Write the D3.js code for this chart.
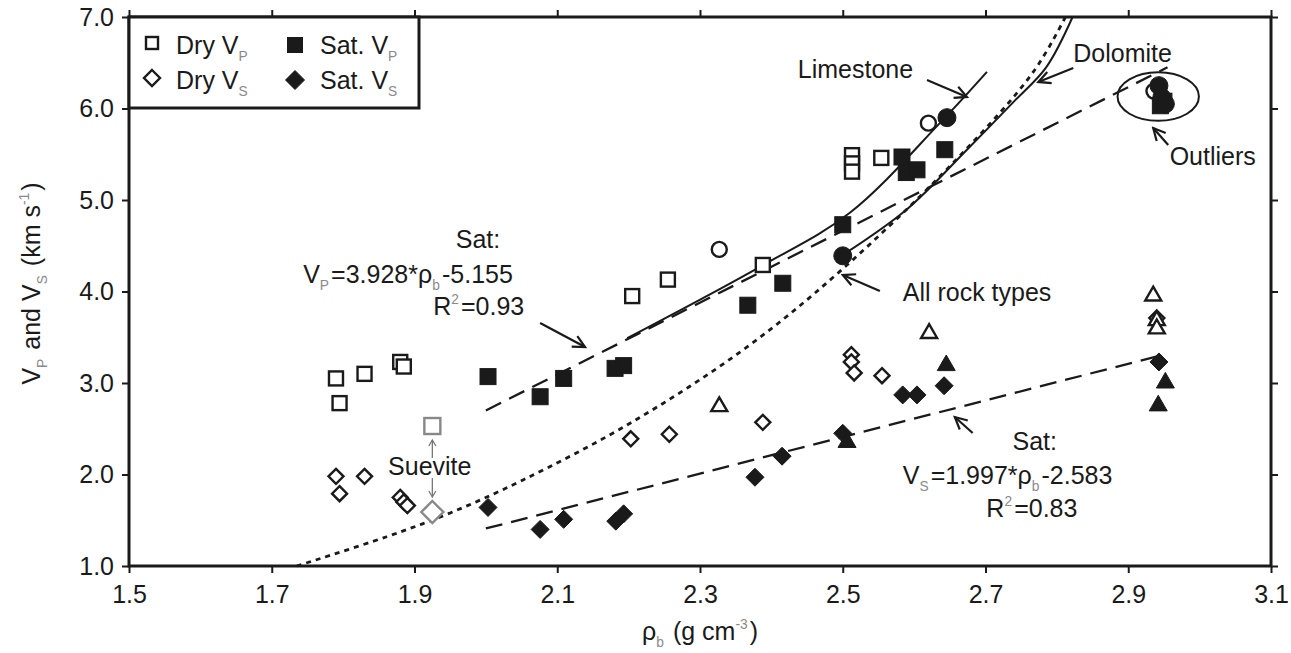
<!DOCTYPE html>
<html><head><meta charset="utf-8">
<script src="https://cdn.jsdelivr.net/npm/d3@7"></script>
<style>body{margin:0;background:#fff}svg{display:block}text{font-family:"Liberation Sans",Arial,sans-serif;fill:#1a1a1a}</style>
</head><body><svg id="c" width="1291" height="653"></svg>
<script>
// ---------- data ----------
const xTicks = [1.5,1.7,1.9,2.1,2.3,2.5,2.7,2.9,3.1];
const yTicks = [1,2,3,4,5,6,7];
const dryVP = [[1.79,3.05],[1.795,2.78],[1.83,3.10],[1.88,3.23],[1.885,3.18],[2.205,3.95],[2.255,4.13],[2.388,4.29],[2.513,5.49],[2.513,5.40],[2.513,5.31],[2.554,5.46]];
const satVP = [[2.003,3.07],[2.076,2.85],[2.109,3.05],[2.181,3.16],[2.193,3.19],[2.367,3.85],[2.416,4.09],[2.50,4.73],[2.583,5.47],[2.589,5.30],[2.604,5.33],[2.643,5.55],[2.945,6.03],[2.95,6.08]];
const dryVS = [[1.79,1.98],[1.795,1.79],[1.83,1.98],[1.88,1.75],[1.885,1.70],[1.89,1.66],[2.203,2.39],[2.257,2.44],[2.388,2.57],[2.512,3.31],[2.512,3.23],[2.516,3.11],[2.555,3.08],[2.94,3.71]];
const satVS = [[2.003,1.64],[2.076,1.40],[2.109,1.51],[2.182,1.49],[2.193,1.57],[2.377,1.97],[2.415,2.20],[2.50,2.45],[2.584,2.87],[2.604,2.87],[2.642,2.97],[2.943,3.23]];
const openTri = [[2.327,2.75],[2.621,3.55],[2.935,3.96],[2.94,3.69],[2.94,3.60]];
const filledTri = [[2.506,2.36],[2.645,3.20],[2.952,3.01],[2.942,2.76]];
const openCircle = [[2.327,4.46],[2.62,5.84],[2.936,6.19]];
const filledCircle = [[2.646,5.90],[2.50,4.39],[2.943,6.25],[2.947,6.12],[2.952,6.05]];
const sueviteVP = [[1.925,2.53]];
const sueviteVS = [[1.925,1.59]];
const satVPFit = [[2.0,2.70],[2.955,6.45]];
const satVSFit = [[2.0,1.41],[2.945,3.30]];
const limestone = [[2.198,3.49],[2.384,4.27],[2.51,4.86],[2.636,5.84],[2.702,6.40]];
const dolomite = [[2.50,4.40],[2.59,4.90],[2.674,5.55],[2.739,6.07],[2.785,6.45],[2.822,7.0]];
const allRock = [[1.735,1.0],[1.861,1.32],[1.95,1.58],[2.052,1.94],[2.202,2.56],[2.36,3.36],[2.496,4.22],[2.66,5.45],[2.767,6.40],[2.812,7.0]];
const outlierEllipse = {cx:2.942, cy:6.13, rx:0.057, ry:0.265};

// ---------- setup ----------
const svg = d3.select("#c");
const L=129, R=1271, T=17, B=566;
const x = d3.scaleLinear().domain([1.5,3.1]).range([L,R]);
const y = d3.scaleLinear().domain([1,7]).range([B,T]);
const ink = "#1a1a1a";

const defs = svg.append("defs");
defs.append("marker").attr("id","ar").attr("viewBox","-14 -8 16 16").attr("refX",0).attr("refY",0)
   .attr("markerWidth",16).attr("markerHeight",16).attr("markerUnits","userSpaceOnUse").attr("orient","auto")
   .append("path").attr("d","M-12,-6L0,0L-12,6").attr("fill","none").attr("stroke",ink).attr("stroke-width",2.2);
defs.append("marker").attr("id","arg").attr("viewBox","-8 -5 10 10").attr("refX",0).attr("refY",0)
   .attr("markerWidth",10).attr("markerHeight",10).attr("markerUnits","userSpaceOnUse").attr("orient","auto")
   .append("path").attr("d","M-6,-3.5L0,0L-6,3.5").attr("fill","none").attr("stroke","#777").attr("stroke-width",1.3);

// ---------- axes ----------
const fmt = d3.format(".1f");
const gx = svg.append("g").attr("transform",`translate(0,${B})`).call(d3.axisBottom(x).tickValues(xTicks).tickFormat(fmt).tickSize(7).tickPadding(12));
const gxt = svg.append("g").attr("transform",`translate(0,${T})`).call(d3.axisTop(x).tickValues(xTicks).tickFormat("").tickSize(7));
const gy = svg.append("g").attr("transform",`translate(${L},0)`).call(d3.axisLeft(y).tickValues(yTicks).tickFormat(fmt).tickSize(7).tickPadding(8));
const gyr = svg.append("g").attr("transform",`translate(${R},0)`).call(d3.axisRight(y).tickValues(yTicks).tickFormat("").tickSize(7));
[gx,gxt,gy,gyr].forEach(g=>{
  g.select(".domain").remove();
  g.selectAll(".tick line").attr("stroke",ink).attr("stroke-width",2);
  g.selectAll(".tick text").attr("font-size",25).attr("fill","#222").style("font-family",'"Liberation Sans",Arial,sans-serif');
});
svg.append("rect").attr("x",L).attr("y",T).attr("width",R-L).attr("height",B-T).attr("fill","none").attr("stroke",ink).attr("stroke-width",3);

// ---------- rich text helper ----------
function rich(g, px, py, parts, anchor, size){
  size = size||25;
  const t = g.append("text").attr("x",px).attr("y",py).attr("font-size",size).attr("text-anchor",anchor||"start");
  parts.forEach(p=>{
    if(typeof p==="string"){ t.append("tspan").text(p); }
    else {
      const sh = p.sub ? 0.28*size : -0.45*size;
      t.append("tspan").attr("dy",sh).attr("font-size",size*0.55).attr("fill","#8a8a8a").text(p.t);
      t.append("tspan").attr("dy",-sh).text("\u200A");
    }
  });
  return t;
}

// ---------- lines ----------
const line = d3.line().x(d=>x(d[0])).y(d=>y(d[1]));
const curve = d3.line().x(d=>x(d[0])).y(d=>y(d[1])).curve(d3.curveCatmullRom.alpha(0.5));
const lg = svg.append("g").attr("fill","none").attr("stroke",ink);
lg.append("path").datum(satVPFit).attr("d",line).attr("stroke-width",2.3).attr("stroke-dasharray","17,9");
lg.append("path").datum(satVSFit).attr("d",line).attr("stroke-width",2.3).attr("stroke-dasharray","17,9");
lg.append("path").datum(allRock).attr("d",curve).attr("stroke-width",2.8).attr("stroke-dasharray","5,5");
lg.append("path").datum(limestone).attr("d",curve).attr("stroke-width",2);
lg.append("path").datum(dolomite).attr("d",curve).attr("stroke-width",2);
lg.append("ellipse").attr("cx",x(outlierEllipse.cx)).attr("cy",y(outlierEllipse.cy))
  .attr("rx",x(outlierEllipse.cx+outlierEllipse.rx)-x(outlierEllipse.cx))
  .attr("ry",y(outlierEllipse.cy)-y(outlierEllipse.cy+outlierEllipse.ry)).attr("stroke-width",2);

// ---------- markers ----------
const mg = svg.append("g");
function sq(data, s, filled, col){
  mg.selectAll(null).data(data).enter().append("rect")
   .attr("x",d=>x(d[0])-s/2).attr("y",d=>y(d[1])-s/2).attr("width",s).attr("height",s)
   .attr("fill",filled?col:"#fff").attr("stroke",col).attr("stroke-width",filled?1:2.4);
}
function dia(data, h, filled, col){
  mg.selectAll(null).data(data).enter().append("path")
   .attr("d",d=>{const cx=x(d[0]),cy=y(d[1]);return `M${cx},${cy-h}L${cx+h},${cy}L${cx},${cy+h}L${cx-h},${cy}Z`;})
   .attr("fill",filled?col:"#fff").attr("stroke",col).attr("stroke-width",filled?1:2.4);
}
function tri(data, s, filled){
  mg.selectAll(null).data(data).enter().append("path")
   .attr("d",d=>{const cx=x(d[0]),cy=y(d[1]);const h=s*0.866;return `M${cx},${cy-h*0.62}L${cx+s/2},${cy+h*0.38}L${cx-s/2},${cy+h*0.38}Z`;})
   .attr("fill",filled?ink:"#fff").attr("stroke",ink).attr("stroke-width",filled?1:2.4);
}
function circ(data, r, filled){
  mg.selectAll(null).data(data).enter().append("circle")
   .attr("cx",d=>x(d[0])).attr("cy",d=>y(d[1])).attr("r",r)
   .attr("fill",filled?ink:"#fff").attr("stroke",ink).attr("stroke-width",filled?1:2.4);
}
sq(dryVP,14,false,ink);
dia(dryVS,7.5,false,ink);
tri(openTri,16,false);
circ(openCircle,7.5,false);
sq(satVP,16,true,ink);
dia(satVS,9,true,ink);
tri(filledTri,18,true);
circ(filledCircle,9,true);
sq(sueviteVP,16,false,"#888");
dia(sueviteVS,11,false,"#888");

// ---------- annotations ----------
const ag = svg.append("g");
function arrow(p0,p1,mk,col,w){
  ag.append("line").attr("x1",x(p0[0])).attr("y1",y(p0[1])).attr("x2",x(p1[0])).attr("y2",y(p1[1]))
    .attr("stroke",col||ink).attr("stroke-width",w||2.2).attr("marker-end",`url(#${mk||"ar"})`);
}
rich(ag, x(1.989), y(4.475), ["Sat:"], "middle");
rich(ag, x(1.744), y(4.093), ["V",{t:"P",sub:true},"=3.928*\u03C1",{t:"b",sub:true},"-5.155"], "start");
rich(ag, x(1.990), y(3.743), ["R",{t:"2",sup:true},"=0.93"], "middle");
arrow([2.076,3.656],[2.139,3.393]);
rich(ag, x(2.437), y(6.333), ["Limestone"], "start");
arrow([2.618,6.311],[2.674,6.126]);
rich(ag, x(2.823), y(6.508), ["Dolomite"], "start");
arrow([2.823,6.443],[2.774,6.290]);
rich(ag, x(2.958), y(5.383), ["Outliers"], "start");
arrow([2.956,5.601],[2.935,5.787]);
rich(ag, x(2.584), y(3.896), ["All rock types"], "start");
arrow([2.552,4.005],[2.500,4.180]);
rich(ag, x(2.769), y(2.268), ["Sat:"], "middle");
rich(ag, x(2.584), y(1.896), ["V",{t:"S",sub:true},"=1.997*\u03C1",{t:"b",sub:true},"-2.583"], "start");
rich(ag, x(2.765), y(1.536), ["R",{t:"2",sup:true},"=0.83"], "middle");
arrow([2.682,2.454],[2.657,2.628]);
rich(ag, x(1.863), y(1.995), ["Suevite"], "start");
arrow([1.925,2.180],[1.925,2.377],"arg","#777",1.3);
arrow([1.925,1.962],[1.925,1.754],"arg","#777",1.3);

// ---------- legend ----------
const lgd = svg.append("g");
lgd.append("rect").attr("x",L).attr("y",T).attr("width",290).attr("height",108-T).attr("fill","#fff").attr("stroke",ink).attr("stroke-width",3);
function legSq(cx,cy,s,filled){lgd.append("rect").attr("x",cx-s/2).attr("y",cy-s/2).attr("width",s).attr("height",s).attr("fill",filled?ink:"#fff").attr("stroke",ink).attr("stroke-width",filled?1:2.4);}
function legDia(cx,cy,h,filled){lgd.append("path").attr("d",`M${cx},${cy-h}L${cx+h},${cy}L${cx},${cy+h}L${cx-h},${cy}Z`).attr("fill",filled?ink:"#fff").attr("stroke",ink).attr("stroke-width",filled?1:2.4);}
legSq(152,43,12,false); legDia(152,78,8,false);
legSq(295,45,15,true); legDia(295,80,9.5,true);
rich(lgd,176,54,["Dry V",{t:"P",sub:true}],"start");
rich(lgd,176,89,["Dry V",{t:"S",sub:true}],"start");
rich(lgd,320,54,["Sat. V",{t:"P",sub:true}],"start");
rich(lgd,320,89,["Sat. V",{t:"S",sub:true}],"start");

// ---------- axis titles ----------
rich(svg, (L+R)/2, 640, ["\u03C1",{t:"b",sub:true}," (g cm",{t:"-3",sup:true},")"], "middle", 25);
const yl = svg.append("g").attr("transform",`translate(40,${(T+B)/2-8}) rotate(-90)`);
rich(yl, 0, 0, ["V",{t:"P",sub:true}," and V",{t:"S",sub:true}," (km s",{t:"-1",sup:true},")"], "middle", 25);
</script></body></html>
